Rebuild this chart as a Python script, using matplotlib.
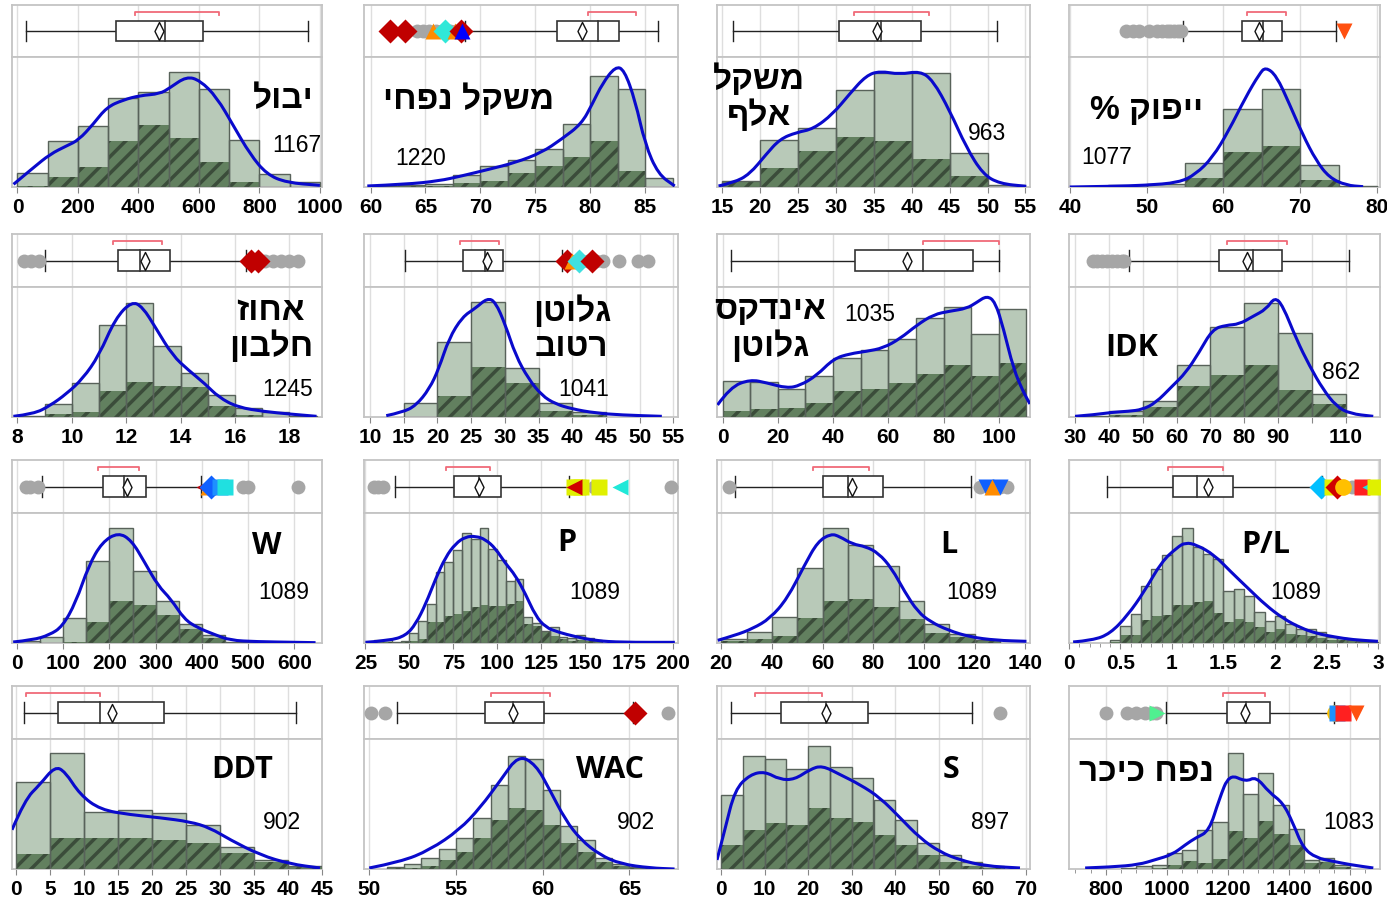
import numpy as np
import matplotlib.pyplot as plt
from matplotlib.path import Path
from matplotlib.patches import PathPatch, Rectangle

plt.rcParams['hatch.linewidth'] = 2.5

# ---------------- data (heights in relative units, full panel ~388) ----------------
p1_name, p1_n = "יבול", "1167"
p1_ticks = [0, 200, 400, 600, 800, 1000]
p1_edges = [0, 100, 200, 300, 400, 500, 600, 700, 800, 900, 1000]
p1_total = [42, 136, 181, 265, 283, 342, 293, 140, 39, 15]
p1_dark = [3, 30, 61, 136, 186, 145, 75, 15, 0, 0]
p1_kx = [-13, 53, 108, 163, 202, 251, 295, 350, 405, 471, 504, 559, 604, 659, 714, 769, 824, 890, 1000]
p1_ky = [8, 58, 98, 123, 140, 188, 238, 260, 273, 278, 296, 330, 318, 268, 183, 98, 38, 13, 5]
p1_box = [29, 326, 489, 614, 962, 469]  # low, q1, median, q3, high, mean
p1_short = [390, 666]
p1_grey = []
p1_flags = []

p2_name, p2_n = "משקל נפחי", "1220"
p2_ticks = [60, 65, 70, 75, 80, 85]
p2_edges = [60, 62.5, 65, 67.5, 70, 72.5, 75, 77.5, 80, 82.5, 85, 87.5]
p2_total = [3, 5, 8, 36, 63, 80, 113, 188, 330, 293, 26]
p2_dark = [0, 2, 3, 12, 18, 42, 62, 90, 138, 48, 0]
p2_kx = [59.7, 63.2, 66.2, 68.3, 70.8, 73.2, 75.6, 77.4, 79.2, 80.2, 81.1, 82.3, 83.1, 84.1, 85, 86.2, 87.7]
p2_ky = [3, 8, 18, 33, 53, 73, 103, 143, 188, 248, 308, 360, 350, 258, 128, 38, 3]
p2_box = [68.6, 77.0, 80.67, 82.6, 86.2, 79.3]
p2_short = [79.8, 84.2]
p2_grey = [64.2, 64.8, 65.3, 66.0, 66.5, 67.2, 67.8]
p2_flags = [(61.8, 'D', '#c00000'), (63.1, 'D', '#c00000'), (65.7, '^', '#ff8c00'), (66.8, 'D', '#30e8d8'),
            (67.7, '^', '#ff8c00'), (68.2, 'D', '#c00000'), (68.3, '^', '#0000ff')]

p3_name, p3_n = "משקל\nאלף", "963"
p3_ticks = [15, 20, 25, 30, 35, 40, 45, 50, 55]
p3_edges = [15, 20, 25, 30, 35, 40, 45, 50, 55]
p3_total = [18, 140, 175, 290, 340, 340, 100, 5]
p3_dark = [15, 58, 108, 150, 136, 84, 33, 0]
p3_kx = [14.5, 16.5, 18.6, 20.8, 22.6, 24.8, 27, 29.6, 31.8, 34, 35.8, 38.4, 41.1, 42.8, 45, 47.2, 49.4, 51.6, 55.1]
p3_ky = [3, 13, 38, 98, 143, 163, 173, 218, 278, 333, 346, 336, 346, 318, 228, 118, 38, 10, 2]
p3_box = [16.45, 30.4, 35.97, 41.2, 51.2, 35.35]
p3_short = [32.4, 42.3]
p3_grey = []
p3_flags = []

p4_name, p4_n = "ייפוק %", "1077"
p4_ticks = [40, 50, 60, 70, 80]
p4_edges = [45, 50, 55, 60, 65, 70, 75, 80]
p4_total = [5, 10, 72, 232, 293, 66, 2]
p4_dark = [0, 0, 27, 103, 121, 20, 0]
p4_kx = [40, 45.5, 49.8, 54.2, 56.4, 58.6, 60.7, 62.9, 64.7, 65.5, 66.9, 68.6, 70.3, 72.1, 73.8, 76, 78.2]
p4_ky = [0, 2, 5, 13, 38, 88, 168, 268, 338, 358, 333, 248, 158, 78, 28, 5, 1]
p4_box = [54.7, 62.4, 65.2, 67.7, 74.7, 64.6]
p4_short = [63.1, 68.2]
p4_grey = [47.3, 48.2, 49.0, 50.3, 51.3, 52.0, 52.6, 53.1, 53.6, 54.1, 54.5]
p4_flags = [(75.7, 'v', '#ff5010')]

p5_name, p5_n = "אחוז\nחלבון", "1245"
p5_ticks = [8, 10, 12, 14, 16, 18]
p5_edges = [8, 9, 10, 11, 12, 13, 14, 15, 16, 17, 18, 19]
p5_total = [4, 38, 102, 274, 339, 211, 132, 65, 27, 15, 4]
p5_dark = [0, 8, 15, 78, 104, 94, 90, 32, 5, 0, 0]
p5_kx = [7.85, 8.6, 9.2, 9.8, 10.4, 11, 11.6, 12.2, 12.6, 13.1, 13.7, 14.3, 14.9, 15.4, 16.1, 17.1, 18, 19]
p5_ky = [2, 9, 34, 69, 114, 184, 294, 345, 329, 264, 184, 139, 99, 59, 29, 16, 9, 2]
p5_box = [9.0, 11.7, 12.5, 13.6, 16.4, 12.7]
p5_short = [11.5, 13.3]
p5_grey = [8.25, 8.5, 8.8, 16.5, 16.8, 17.1, 17.4, 17.7, 18.0, 18.3]
p5_flags = [(16.6, 'D', '#c00000'), (16.85, 'D', '#c00000')]

p6_name, p6_n = "גלוטן\nרטוב", "1041"
p6_ticks = [10, 15, 20, 25, 30, 35, 40, 45, 50, 55]
p6_edges = [15, 20, 25, 30, 35, 40, 45]
p6_total = [41, 223, 344, 146, 41, 14]
p6_dark = [0, 64, 150, 100, 19, 6]
p6_kx = [12.4, 14.8, 16.8, 18.8, 20.2, 21.7, 23.7, 25.6, 27.4, 28.6, 30.1, 31.6, 33.5, 35.5, 37.5, 40, 43.4, 47.3, 53.3]
p6_ky = [4, 14, 34, 84, 144, 234, 299, 324, 355, 344, 274, 184, 114, 64, 39, 24, 12, 6, 2]
p6_box = [15.2, 23.8, 27.0, 29.75, 38.5, 27.4]
p6_short = [23.3, 29.1]
p6_grey = [42.4, 43.5, 44.5, 47.0, 49.8, 51.2]
p6_flags = [(39.3, 'D', '#c00000'), (39.9, '^', '#ff8c00'), (41.0, 'D', '#40e0e0'), (42.9, 'D', '#c00000')]

p7_name, p7_n = "אינדקס\nגלוטן", "1035"
p7_ticks = [0, 20, 40, 60, 80, 100]
p7_edges = [0, 10, 20, 30, 40, 50, 60, 70, 80, 90, 100, 110]
p7_total = [107, 104, 84, 122, 176, 200, 234, 296, 329, 247, 321]
p7_dark = [19, 23, 27, 41, 77, 85, 101, 128, 154, 123, 160]
p7_kx = [-1.8, 2.8, 10, 16, 23.3, 28.1, 34.1, 40.2, 46.2, 52.2, 58.2, 64.3, 70.3, 76.4, 82.4, 88.4, 92, 95.7, 98.7,
         101.7, 105.3, 108.9, 111.3]
p7_ky = [36, 89, 112, 102, 86, 94, 124, 174, 189, 196, 206, 234, 274, 306, 316, 324, 342, 362, 344, 264, 144, 74, 39]
p7_box = [3.0, 47.9, 72.7, 90.6, 100, 66.7]
p7_short = [72.7, 100]
p7_grey = []
p7_flags = []

p8_name, p8_n = "IDK", "862"
p8_ticks = [30, 40, 50, 60, 70, 80, 90, 100, 110]
p8_labels = ["30", "40", "50", "60", "70", "80", "90", "", "110"]
p8_edges = [30, 40, 50, 60, 70, 80, 90, 100, 110]
p8_total = [2, 18, 48, 154, 270, 339, 252, 68]
p8_dark = [0, 7, 31, 92, 124, 154, 82, 38]
p8_kx = [30, 35.9, 40.9, 45.8, 49.8, 53.8, 58.7, 62.7, 66.6, 70.6, 74.6, 78.5, 82.5, 86.5, 89, 91.4, 95.4, 99.3,
         103.3, 107.2, 111.2, 118.1]
p8_ky = [2, 7, 14, 17, 22, 42, 92, 132, 192, 262, 274, 277, 300, 322, 358, 332, 232, 152, 82, 32, 10, 2]
p8_box = [45.8, 72.6, 82.5, 91.2, 110.9, 80.9]
p8_short = [74.9, 92.6]
p8_grey = [35.2, 36.5, 38, 39.5, 41, 42.5, 43.8, 44.5]
p8_flags = []

p9_name, p9_n = "W", "1089"
p9_ticks = [0, 100, 200, 300, 400, 500, 600]
p9_edges = [0, 50, 100, 150, 200, 250, 300, 350, 400, 450, 500, 550]
p9_total = [5, 18, 76, 245, 342, 215, 124, 56, 25, 4, 4]
p9_dark = [0, 0, 4, 64, 124, 114, 84, 41, 16, 0, 0]
p9_kx = [-8.5, 34, 70, 98, 127, 155, 184, 219, 248, 276, 305, 333, 362, 390, 426, 461, 518, 604, 646]
p9_ky = [3, 9, 24, 49, 121, 231, 301, 330, 306, 241, 171, 131, 71, 46, 26, 8, 4, 2, 1]
p9_box = [54, 187, 231, 280, 399, 237]
p9_short = [175, 263]
p9_grey = [20, 28, 45, 490, 500, 607]
p9_flags = [(404, '<', '#c00000'), (414, '^', '#ff8c00'), (420, 'D', '#1060ff'), (440, 's', '#1e90ff'),
            (450, 's', '#20e0e0')]

p10_name, p10_n = "P", "1089"
p10_ticks = [25, 50, 75, 100, 125, 150, 175, 200]
p10_edges = [30, 35, 40, 45, 50, 55, 60, 65, 70, 75, 80, 85, 90, 95, 100, 105, 110, 115, 120, 125, 130, 135, 140,
             145, 150, 155, 160]
p10_total = [10, 8, 3, 5, 29, 67, 117, 212, 242, 277, 329, 309, 342, 282, 247, 184, 190, 77, 59, 37, 47, 19, 15,
             24, 15, 9]
p10_dark = [3, 2, 0, 2, 5, 12, 62, 62, 82, 87, 97, 107, 112, 109, 109, 117, 125, 57, 52, 32, 22, 12, 7, 9, 7, 5]
p10_kx = [25, 38.6, 48, 53.7, 59.4, 65, 70.7, 76.4, 82, 87.8, 93.4, 99.1, 104.8, 110.4, 116.1, 121.8, 127.5, 135,
          144.5, 155.8, 170.9, 201.2]
p10_ky = [2, 7, 22, 57, 117, 192, 257, 297, 317, 319, 309, 282, 237, 202, 147, 82, 47, 32, 19, 7, 2, 2]
p10_box = [41.8, 75.7, 89.6, 102.1, 140.9, 89.6]
p10_short = [71.1, 95.7]
p10_grey = [30, 32, 35, 155, 199]
p10_flags = [(143.5, 's', '#e0f000'), (146, 's', '#e0f000'), (148, 's', '#e0f000'), (144, '<', '#d00000'),
             (158, 's', '#e0f000'), (170, '<', '#20e8d8')]

p11_name, p11_n = "L", "1089"
p11_ticks = [20, 40, 60, 80, 100, 120, 140]
p11_edges = [20, 30, 40, 50, 60, 70, 80, 90, 100, 110, 120, 130]
p11_total = [13, 33, 78, 223, 343, 293, 231, 126, 58, 27, 8]
p11_dark = [5, 11, 20, 75, 126, 130, 106, 73, 31, 18, 5]
p11_kx = [18.6, 25.5, 32.4, 39.2, 46.1, 52.9, 58.1, 63.3, 66.7, 71.8, 77, 82.1, 87.3, 92.4, 97.6, 102.7, 109.6,
          118.2, 128.5, 140.5]
p11_ky = [8, 23, 43, 73, 133, 233, 303, 326, 318, 295, 288, 268, 223, 153, 93, 63, 38, 18, 8, 5]
p11_box = [25.5, 60.3, 70.1, 83.7, 118.5, 71.5]
p11_short = [56.1, 78.4]
p11_grey = [22.9, 122, 126, 130, 133]
p11_flags = [(124.5, 'v', '#1060ff'), (127, '^', '#ff8c00'), (130, 'v', '#1060ff')]

p12_name, p12_n = "P/L", "1089"
p12_ticks = [0, 0.5, 1, 1.5, 2, 2.5, 3]
p12_edges = [0.4, 0.5, 0.6, 0.7, 0.8, 0.9, 1.0, 1.1, 1.2, 1.3, 1.4, 1.5, 1.6, 1.7, 1.8, 1.9, 2.0, 2.1, 2.2, 2.3,
             2.4, 2.5, 2.6, 2.7, 2.8, 2.9, 3.0]
p12_total = [10, 51, 88, 170, 221, 263, 320, 343, 287, 265, 251, 155, 160, 140, 93, 65, 81, 58, 41, 41, 33, 18,
             15, 8, 5, 3]
p12_dark = [3, 25, 25, 68, 81, 85, 113, 113, 123, 125, 91, 63, 73, 63, 48, 33, 41, 28, 23, 20, 15, 8, 8, 5, 3, 2]
p12_kx = [0.04, 0.23, 0.4, 0.57, 0.73, 0.9, 1.05, 1.13, 1.24, 1.41, 1.57, 1.74, 1.91, 2.08, 2.25, 2.41, 2.58,
          2.75, 3.0]
p12_ky = [3, 8, 28, 83, 153, 243, 285, 300, 293, 263, 213, 163, 113, 73, 45, 28, 18, 10, 5]
p12_box = [0.37, 1.01, 1.24, 1.59, 2.46, 1.35]
p12_short = [0.96, 1.5]
p12_grey = [2.75]
p12_flags = [(2.45, 'D', '#00bfff'), (2.55, 's', '#e0f000'), (2.6, 'D', '#d00000'), (2.66, 'o', '#ffc000'),
             (2.85, 's', '#ff2020'), (2.92, '<', '#20e0e0'), (2.97, 's', '#e0f000')]

p13_name, p13_n = "DDT", "902"
p13_ticks = [0, 5, 10, 15, 20, 25, 30, 35, 40, 45]
p13_edges = [0, 5, 10, 15, 20, 25, 30, 35, 40, 45]
p13_total = [261, 345, 171, 177, 168, 132, 66, 27, 9]
p13_dark = [45, 93, 93, 93, 87, 78, 48, 21, 6]
p13_kx = [-0.6, 1.3, 3.5, 5.7, 7.2, 9.4, 12.4, 16.8, 21.2, 25.6, 28.5, 31.5, 35.9, 40.3, 44.7]
p13_ky = [117, 207, 252, 306, 291, 222, 177, 162, 153, 141, 123, 87, 42, 15, 3]
p13_box = [1.2, 6.2, 12.4, 21.8, 41.2, 14.1]
p13_short = [1.5, 12.4]
p13_grey = []
p13_flags = []

p14_name, p14_n = "WAC", "902"
p14_ticks = [50, 55, 60, 65]
p14_edges = [51, 52, 53, 54, 55, 56, 57, 58, 59, 60, 61, 62, 63, 64, 65, 66]
p14_total = [6, 15, 33, 60, 93, 153, 252, 336, 327, 237, 129, 87, 33, 15, 6]
p14_dark = [3, 3, 9, 27, 51, 93, 147, 183, 177, 132, 78, 51, 21, 9, 3]
p14_kx = [50, 51.8, 53.5, 55.2, 56.4, 57.6, 58.6, 59.6, 60.4, 61.3, 62.2, 63.3, 64.5, 66.2, 67.6]
p14_ky = [3, 21, 57, 117, 183, 267, 340, 312, 237, 147, 87, 42, 15, 3, 0]
p14_box = [51.6, 56.7, 58.3, 60.1, 65.2, 58.3]
p14_short = [57, 60.4]
p14_grey = [50.1, 50.9, 67.2]
p14_flags = [(65.3, 'D', '#c00000')]

p15_name, p15_n = "S", "897"
p15_ticks = [0, 10, 20, 30, 40, 50, 60, 70]
p15_edges = [0, 5, 10, 15, 20, 25, 30, 35, 40, 45, 50, 55, 60, 65]
p15_total = [222, 336, 327, 297, 366, 303, 273, 207, 147, 78, 42, 21, 9]
p15_dark = [72, 117, 138, 132, 183, 153, 141, 102, 72, 42, 21, 9, 3]
p15_kx = [-0.9, 0.9, 3.2, 6.7, 10.1, 13.5, 16.9, 20.4, 23.2, 27.3, 31.9, 36.5, 41.1, 45.6, 50.2, 54.8, 60.6, 68.6]
p15_ky = [27, 117, 237, 282, 291, 267, 267, 297, 309, 282, 252, 213, 153, 93, 51, 27, 9, 3]
p15_box = [2.3, 13.8, 24.1, 33.7, 57.6, 24.1]
p15_short = [7.8, 23.2]
p15_grey = [64]
p15_flags = []

p16_name, p16_n = "נפח כיכר", "1083"
p16_ticks = [800, 1000, 1200, 1400, 1600]
p16_edges = [850, 900, 950, 1000, 1050, 1100, 1150, 1200, 1250, 1300, 1350, 1400, 1450, 1500, 1550, 1600]
p16_total = [3, 8, 11, 48, 58, 116, 140, 346, 225, 286, 191, 120, 28, 33, 13]
p16_dark = [0, 0, 3, 13, 23, 18, 30, 113, 93, 143, 103, 73, 18, 20, 6]
p16_kx = [732, 820, 908, 963, 1018, 1062, 1095, 1139, 1172, 1205, 1260, 1293, 1337, 1381, 1414, 1447, 1491, 1546,
          1601, 1678]
p16_ky = [3, 6, 13, 28, 43, 73, 93, 113, 208, 284, 260, 276, 228, 198, 138, 63, 33, 23, 13, 3]
p16_box = [998, 1198, 1261, 1340, 1550, 1257]
p16_short = [1185, 1322]
p16_grey = [800, 870, 900, 930, 950, 965]
p16_flags = [(968, '>', '#50f090'), (1552, 'o', '#ffc000'), (1560, 's', '#1e90ff'), (1580, 's', '#ff2020'),
             (1620, 'v', '#ff5010')]

panels = [
    (p1_name, p1_n, p1_ticks, None, p1_edges, p1_total, p1_dark, p1_kx, p1_ky, p1_box, p1_short, p1_grey, p1_flags),
    (p2_name, p2_n, p2_ticks, None, p2_edges, p2_total, p2_dark, p2_kx, p2_ky, p2_box, p2_short, p2_grey, p2_flags),
    (p3_name, p3_n, p3_ticks, None, p3_edges, p3_total, p3_dark, p3_kx, p3_ky, p3_box, p3_short, p3_grey, p3_flags),
    (p4_name, p4_n, p4_ticks, None, p4_edges, p4_total, p4_dark, p4_kx, p4_ky, p4_box, p4_short, p4_grey, p4_flags),
    (p5_name, p5_n, p5_ticks, None, p5_edges, p5_total, p5_dark, p5_kx, p5_ky, p5_box, p5_short, p5_grey, p5_flags),
    (p6_name, p6_n, p6_ticks, None, p6_edges, p6_total, p6_dark, p6_kx, p6_ky, p6_box, p6_short, p6_grey, p6_flags),
    (p7_name, p7_n, p7_ticks, None, p7_edges, p7_total, p7_dark, p7_kx, p7_ky, p7_box, p7_short, p7_grey, p7_flags),
    (p8_name, p8_n, p8_ticks, p8_labels, p8_edges, p8_total, p8_dark, p8_kx, p8_ky, p8_box, p8_short, p8_grey, p8_flags),
    (p9_name, p9_n, p9_ticks, None, p9_edges, p9_total, p9_dark, p9_kx, p9_ky, p9_box, p9_short, p9_grey, p9_flags),
    (p10_name, p10_n, p10_ticks, None, p10_edges, p10_total, p10_dark, p10_kx, p10_ky, p10_box, p10_short, p10_grey, p10_flags),
    (p11_name, p11_n, p11_ticks, None, p11_edges, p11_total, p11_dark, p11_kx, p11_ky, p11_box, p11_short, p11_grey, p11_flags),
    (p12_name, p12_n, p12_ticks, None, p12_edges, p12_total, p12_dark, p12_kx, p12_ky, p12_box, p12_short, p12_grey, p12_flags),
    (p13_name, p13_n, p13_ticks, None, p13_edges, p13_total, p13_dark, p13_kx, p13_ky, p13_box, p13_short, p13_grey, p13_flags),
    (p14_name, p14_n, p14_ticks, None, p14_edges, p14_total, p14_dark, p14_kx, p14_ky, p14_box, p14_short, p14_grey, p14_flags),
    (p15_name, p15_n, p15_ticks, None, p15_edges, p15_total, p15_dark, p15_kx, p15_ky, p15_box, p15_short, p15_grey, p15_flags),
    (p16_name, p16_n, p16_ticks, None, p16_edges, p16_total, p16_dark, p16_kx, p16_ky, p16_box, p16_short, p16_grey, p16_flags),
]

# ---------------- layout (pixels of the 1387x901 canvas) ----------------
W, H = 1387, 901
cols = [(12, 322), (364, 678), (717, 1030), (1069, 1380)]
rows = [(5, 57, 187), (234, 287, 417), (460, 513, 643), (686, 739, 869)]
xlims = [(-18, 1007), (59.4, 88.0), (14.3, 55.6), (39.9, 80.4),
         (7.8, 19.2), (9.1, 55.7), (-2, 111.3), (28.2, 120.1),
         (-11, 660), (24.2, 203), (18.3, 141.9), (0, 3.02),
         (-0.6, 45), (49.7, 67.8), (-0.9, 70.9), (679, 1700)]
minor_step = {11: 0.1, 15: 50}
# (x, y) in hist-axes fractions for title and count
title_pos = [(0.874, 0.67), (0.334, 0.67), (0.134, 0.685), (0.25, 0.59),
             (0.835, 0.673), (0.662, 0.677), (0.17, 0.677), (0.2, 0.53),
             (0.823, 0.75), (0.647, 0.77), (0.741, 0.754), (0.633, 0.754),
             (0.742, 0.76), (0.783, 0.76), (0.748, 0.76), (0.25, 0.74)]
count_pos = [(0.92, 0.32), (0.18, 0.22), (0.863, 0.415), (0.12, 0.23),
             (0.89, 0.21), (0.70, 0.21), (0.489, 0.785), (0.875, 0.346),
             (0.877, 0.39), (0.735, 0.39), (0.815, 0.39), (0.73, 0.39),
             (0.87, 0.36), (0.866, 0.36), (0.872, 0.36), (0.9, 0.36)]

frame_col = '#c4c4c4'
grid_col = '#dedede'
light_col = '#b8c9b8'
dark_col = '#62805f'
hatch_col = '#3b4c3a'
edge_col = '#58625a'
kde_col = '#0a0acc'
heb = ['Liberation Sans', 'DejaVu Sans']
mean_marker = Path([(0, 1), (0.5, 0), (0, -1), (-0.5, 0), (0, 1)],
                   [Path.MOVETO, Path.LINETO, Path.LINETO, Path.LINETO, Path.CLOSEPOLY])


def rtl(s):
    # matplotlib lays text out left to right, so flip each Hebrew line
    if any('\u0590' <= c <= '\u05ff' for c in s):
        return "\n".join(line[::-1] for line in s.split("\n"))
    return s


def smooth_path(xs, ys):
    verts = [(xs[0], ys[0])]
    codes = [Path.MOVETO]
    for i in range(1, len(xs) - 1):
        verts += [(xs[i], ys[i]), ((xs[i] + xs[i + 1]) / 2, (ys[i] + ys[i + 1]) / 2)]
        codes += [Path.CURVE3, Path.CURVE3]
    verts.append((xs[-1], ys[-1]))
    codes.append(Path.LINETO)
    return Path(verts, codes)


def style_frame(ax):
    for sp in ax.spines.values():
        sp.set_color(frame_col)
        sp.set_linewidth(1.3)


fig = plt.figure(figsize=(W / 100, H / 100), dpi=100)

for k, (name, n, ticks, labels, edges, total, dark, kx, ky, box, short, grey, flags) in enumerate(panels):
    left, right = cols[k % 4]
    top, mid, bottom = rows[k // 4]
    xl = xlims[k]

    # ---- box plot strip ----
    axb = fig.add_axes([left / W, 1 - mid / H, (right - left) / W, (mid - top) / H])
    axb.set_xlim(*xl)
    axb.set_ylim(0, 1)
    axb.set_xticks(ticks)
    axb.set_xticklabels([])
    axb.set_yticks([])
    axb.tick_params(length=0)
    axb.grid(axis='x', color=grid_col, lw=1)
    axb.set_axisbelow(True)
    style_frame(axb)
    low, q1, med, q3, high, mean = box
    yc, hh = 0.5, 0.2
    axb.plot([low, q1], [yc, yc], color='#222', lw=1, zorder=3)
    axb.plot([q3, high], [yc, yc], color='#222', lw=1, zorder=3)
    for xv in (low, high):
        axb.plot([xv, xv], [yc - hh, yc + hh], color='#222', lw=1, zorder=3)
    axb.add_patch(Rectangle((q1, yc - hh), q3 - q1, 2 * hh, fc='white', ec='#333', lw=1.2, zorder=3))
    axb.plot([med, med], [yc - hh, yc + hh], color='#333', lw=1.2, zorder=4)
    axb.plot(mean, yc, marker=mean_marker, ms=13, mfc='white', mec='#111', mew=1, zorder=5)
    axb.plot([short[0], short[0], short[1], short[1]], [0.81, 0.87, 0.87, 0.81], color='#f06a78', lw=1.3, zorder=3)
    if grey:
        axb.plot(grey, [yc] * len(grey), 'o', ms=10, color='#a6a6a6', mec='none', zorder=4)
    for xv, mk, c in flags:
        axb.plot(xv, yc, marker=mk, ms=12, color=c, mec='none', zorder=6)

    # ---- histogram ----
    axh = fig.add_axes([left / W, 1 - bottom / H, (right - left) / W, (bottom - mid) / H])
    axh.set_xlim(*xl)
    axh.set_ylim(0, 388)
    axh.set_yticks([])
    axh.grid(axis='x', color=grid_col, lw=1)
    axh.set_axisbelow(True)
    style_frame(axh)
    e = np.array(edges, dtype=float)
    widths = e[1:] - e[:-1]
    axh.bar(e[:-1], total, widths, align='edge', color=light_col, lw=0, zorder=2)
    axh.bar(e[:-1], dark, widths, align='edge', color=dark_col, edgecolor=hatch_col, hatch='//', lw=0, zorder=3)
    axh.bar(e[:-1], total, widths, align='edge', fill=False, edgecolor=edge_col, lw=1, zorder=4)
    axh.add_patch(PathPatch(smooth_path(kx, ky), fc='none', ec=kde_col, lw=2.2, zorder=5, clip_on=True))

    axh.set_xticks(ticks)
    axh.set_xticklabels(labels if labels else ['%g' % t for t in ticks],
                        fontsize=15, fontweight='bold', family=heb)
    axh.tick_params(axis='x', length=4, color='#888', pad=4)
    if k in minor_step:
        step = minor_step[k]
        axh.set_xticks(np.arange(xl[0] - xl[0] % step + step, xl[1], step), minor=True)
        axh.tick_params(axis='x', which='minor', length=3, color='#888')

    is_heb = any('\u0590' <= c <= '\u05ff' for c in name)
    tx, ty = title_pos[k]
    if is_heb:
        axh.text(tx, ty, rtl(name), transform=axh.transAxes, ha='center', va='center',
                 fontsize=24, fontweight='bold', family=heb, linespacing=1.15, zorder=6)
    else:
        axh.text(tx, ty, name, transform=axh.transAxes, ha='center', va='center',
                 fontsize=22, fontweight='bold', family=['Open Sans', 'DejaVu Sans'], zorder=6)
    cx, cy = count_pos[k]
    axh.text(cx, cy, n, transform=axh.transAxes, ha='center', va='center', fontsize=16.5, family=heb, zorder=6)

fig.savefig('out.png', dpi=100)
